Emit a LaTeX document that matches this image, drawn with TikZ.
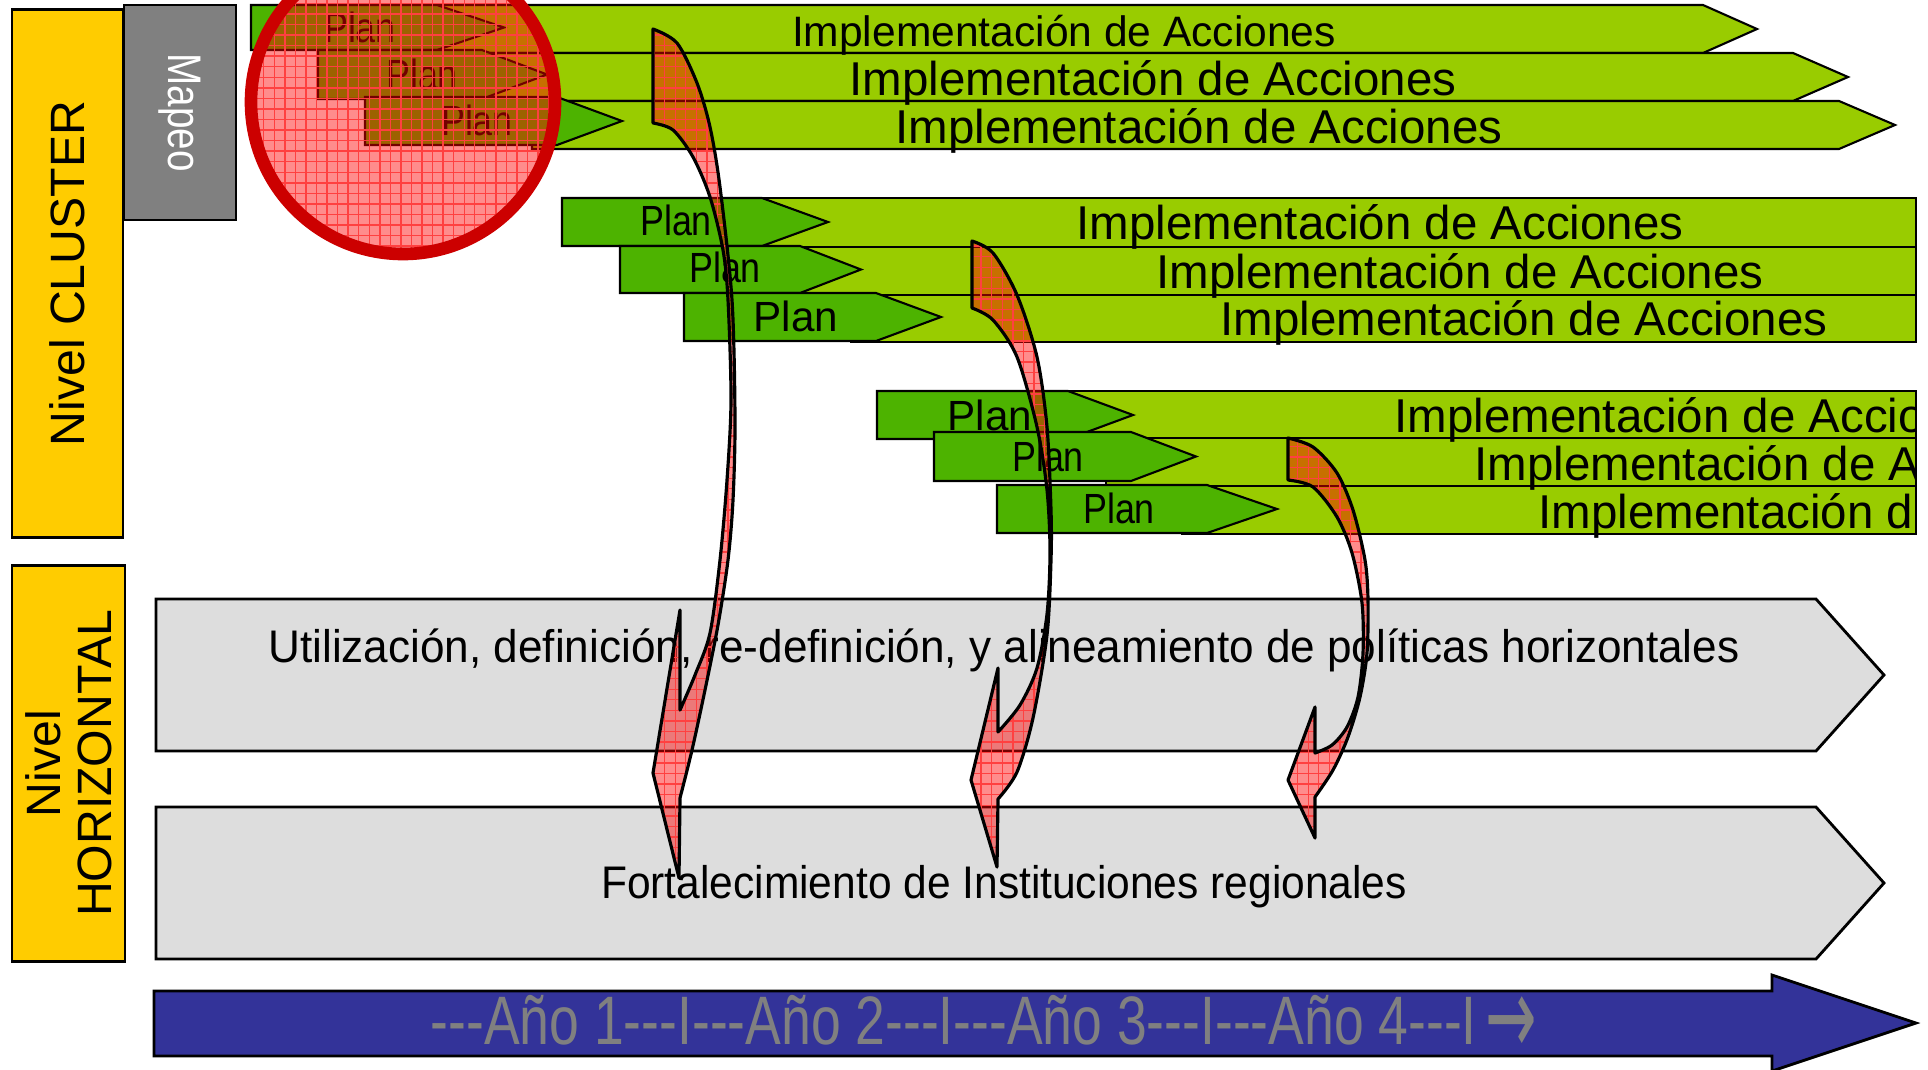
\documentclass[tikz,border=0pt]{standalone}
\usepackage{fontspec}
\setmainfont{Liberation Sans}
\newfontfamily\arrowfont{DejaVu Sans}
\usetikzlibrary{patterns}

\definecolor{clusteryellow}{HTML}{FFCC00}
\definecolor{mapgray}{HTML}{808080}
\definecolor{plangreen}{HTML}{4DB300}
\definecolor{implgreen}{HTML}{99CC00}
\definecolor{horzgray}{HTML}{DDDDDD}
\definecolor{yearblue}{HTML}{333399}
\definecolor{ringred}{HTML}{CC0000}
\definecolor{yeargray}{HTML}{808080}

\newcommand{\narrow}[2]{\scalebox{#1}[1]{#2}}
\newcommand{\dashes}{\mbox{-}\mbox{-}\mbox{-}}

\begin{document}
\begin{tikzpicture}[x=0.01cm, y=-0.01cm,
    levelbox/.style={draw, line width=0.8pt, fill=clusteryellow, inner sep=0pt, align=center, font=\fontsize{13.7}{14.5}\selectfont},
    mapbox/.style={draw, line width=0.8pt, fill=mapgray, text=white, inner sep=0pt, font=\fontsize{13.4}{14}\selectfont},
    implbar/.style={draw, line width=0.6pt, fill=implgreen},
    planbar/.style={draw, line width=0.6pt, fill=plangreen},
    impltext/.style={font=\fontsize{13.5}{15}\selectfont, text height=1.4ex, text depth=0.2ex, inner sep=0pt},
    plantext/.style={font=\fontsize{12}{14}\selectfont, text height=1.4ex, text depth=0ex, inner sep=0pt},
    horzbar/.style={draw, line width=0.8pt, fill=horzgray},
    horztext/.style={font=\fontsize{13}{15}\selectfont, inner sep=0pt},
    yeararrow/.style={draw, line width=0.8pt, fill=yearblue},
    yeartext/.style={text=yeargray, font=\fontsize{19.5}{21}\selectfont, text height=1.4ex, text depth=0ex, inner sep=0pt},
    ring/.style={draw=ringred, line width=3.6pt, preaction={fill=red, fill opacity=0.45}, pattern=grid, pattern color=red!75},
    flowarrow/.style={draw, line width=0.9pt, line join=round, preaction={fill=red, fill opacity=0.45}, pattern=grid, pattern color=red!75}
]
    \clip (0,0) rectangle (1928,1069);

    % level labels
    \node[levelbox, rotate=90, minimum width=5.27cm, minimum height=1.11cm] (cluster) at (67.5,273.5) {Nivel CLUSTER};
    \node[levelbox, rotate=90, minimum width=3.95cm, minimum height=1.13cm] (horizontal) at (68.5,763.5) {Nivel\\HORIZONTAL};
    \node[mapbox, rotate=-90, minimum width=2.15cm, minimum height=1.12cm] (mapeo) at (180,112.5) {\narrow{0.82}{Mapeo}};

    % first cluster group
    \foreach \s/\t/\b/\e/\p in {412/5/53/1703/1757, 457/53/101/1793/1848, 532/101/149/1839/1895}
        \draw[implbar] (\s,\t) -- (\e,\t) -- (\p,{(\t+\b)/2}) -- (\e,\b) -- (\s,\b) -- cycle;
    \foreach \s/\t/\b/\e/\p in {251/5/50/437/504, 318/50/99/482/547, 365/97/145/557/622}
        \draw[planbar] (\s,\t) -- (\e,\t) -- (\p,{(\t+\b)/2}) -- (\e,\b) -- (\s,\b) -- cycle;
    \node[impltext, font=\fontsize{12.1}{14}\selectfont] (impl11) at (1064,35) {Implementación de Acciones};
    \node[impltext] (impl12) at (1153,84) {Implementación de Acciones};
    \node[impltext] (impl13) at (1199,132) {Implementación de Acciones};
    \node[plantext] (plan11) at (360,29) {\narrow{0.85}{Plan}};
    \node[plantext] (plan12) at (422,76) {\narrow{0.85}{Plan}};
    \node[plantext] (plan13) at (477,122) {\narrow{0.85}{Plan}};

    \draw[ring] (403,102) circle [radius=152];

    % second and third cluster groups
    \foreach \s/\t/\b in {737/198/247, 775/247/295, 851/295/342, 1043/391/438, 1106/438/486, 1182/486/534}
        \draw[implbar] (\s,\t) rectangle (1916,\b);
    \foreach \s/\t/\b/\e/\p in {562/198/246/762/828, 620/246/293/800/861, 684/293/341/876/941,
                                877/391/439/1068/1133, 934/432/481/1131/1196, 997/485/533/1207/1277}
        \draw[planbar] (\s,\t) -- (\e,\t) -- (\p,{(\t+\b)/2}) -- (\e,\b) -- (\s,\b) -- cycle;
    \begin{scope}
        \clip (0,0) rectangle (1915,1069);
        \node[impltext] (impl21) at (1380,228) {Implementación de Acciones};
        \node[impltext] (impl22) at (1460,277) {Implementación de Acciones};
        \node[impltext] (impl23) at (1524,324) {Implementación de Acciones};
        \node[impltext] (impl31) at (1698,421) {Implementación de Acciones};
        \node[impltext] (impl32) at (1778,469) {Implementación de Acciones};
        \node[impltext] (impl33) at (1842,517) {Implementación de Acciones};
    \end{scope}
    \node[plantext] (plan21) at (676,222) {\narrow{0.85}{Plan}};
    \node[plantext] (plan22) at (725,269) {\narrow{0.85}{Plan}};
    \node[plantext] (plan23) at (796,318) {Plan};
    \node[plantext] (plan31) at (990,417) {Plan};
    \node[plantext] (plan32) at (1048,458) {\narrow{0.85}{Plan}};
    \node[plantext] (plan33) at (1119,510) {\narrow{0.85}{Plan}};

    % horizontal level
    \draw[horzbar] (156,599) -- (1816,599) -- (1884,675) -- (1816,751) -- (156,751) -- cycle;
    \draw[horzbar] (156,807) -- (1816,807) -- (1884,883) -- (1816,959) -- (156,959) -- cycle;
    \node[horztext] (politicas) at (1004,650) {\narrow{0.965}{Utilización, definición, re-definición, y alineamiento de políticas horizontales}};
    \node[horztext] (instituciones) at (1004,887) {\narrow{0.93}{Fortalecimiento de Instituciones regionales}};

    % time line
    \draw[yeararrow] (154,991) -- (1772,991) -- (1772,975) -- (1916,1023) -- (1772,1071) -- (1772,1056) -- (154,1056) -- cycle;
    \node[yeartext] (years) at (984,1031) {\narrow{0.78}{\dashes Año 1\dashes I\dashes Año 2\dashes I\dashes Año 3\dashes I\dashes Año 4\dashes I\,\smash{\raisebox{-0.15em}{\scalebox{1.15}[1.6]{\arrowfont →}}}}};

    % plans feeding the horizontal level
    \draw[flowarrow] plot[smooth, tension=0.5] coordinates {(653,29) (677,43) (697,83) (710,127) (720,187) (732,300) (735,420) (733,500) (728,560) (718,625) (705,690) (692,750) (680,798)}
        -- (679,878) -- (653,773) -- (680,610) -- (680,710)
        -- plot[smooth, tension=0.5] coordinates {(680,710) (695,675) (710,633) (720,560) (727,480) (731,400) (728,300) (723,250) (710,197) (693,157) (673,130) (653,123)} -- cycle;
    \draw[flowarrow] plot[smooth, tension=0.5] coordinates {(972,241) (993,253) (1017,295) (1037,357) (1047,427) (1051,510) (1051,560) (1047,635) (1033,718) (1017,772) (998,799)}
        -- (997,867) -- (971,780) -- (998,668) -- (998,732)
        -- plot[smooth, tension=0.5] coordinates {(998,732) (1020,705) (1037,668) (1047,614) (1050,552) (1047,490) (1037,427) (1017,357) (993,320) (972,308)} -- cycle;
    \draw[flowarrow] plot[smooth, tension=0.5] coordinates {(1288,438) (1313,447) (1337,473) (1353,510) (1365,560) (1368,600) (1367,653) (1360,697) (1348,737) (1333,770) (1315,797)}
        -- (1315,838) -- (1288,780) -- (1315,707) -- (1315,753)
        -- plot[smooth, tension=0.5] coordinates {(1315,753) (1332,745) (1347,727) (1358,697) (1363,653) (1362,603) (1352,553) (1337,517) (1313,487) (1288,480)} -- cycle;
\end{tikzpicture}
\end{document}
